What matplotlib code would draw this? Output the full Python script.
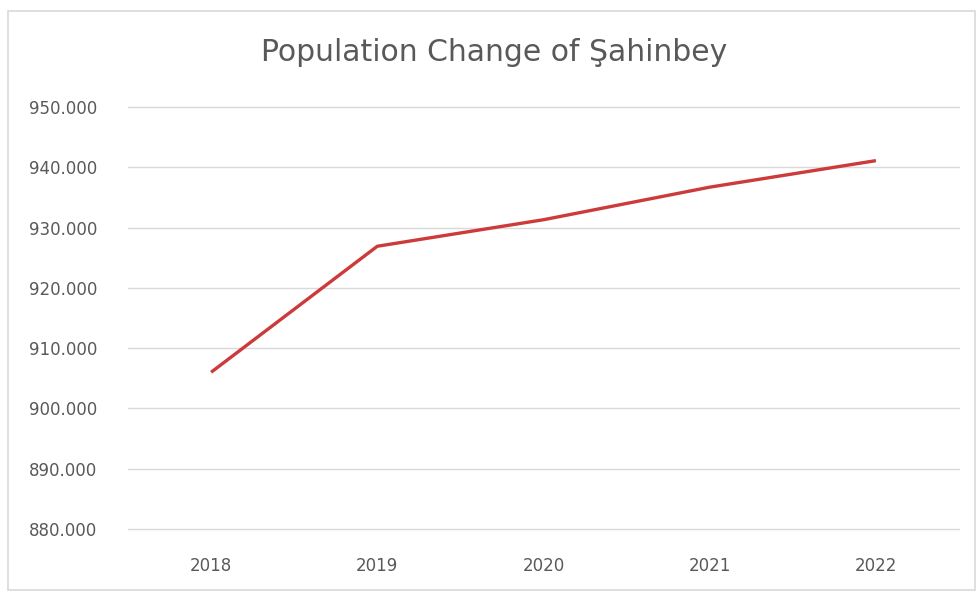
import matplotlib

matplotlib.use("Agg")
import matplotlib.pyplot as plt
from matplotlib.patches import Rectangle
from matplotlib.ticker import FuncFormatter

YEARS = ["2018", "2019", "2020", "2021", "2022"]
POPULATION = [906000, 926900, 931300, 936700, 941100]
Y_TICKS = [880000, 890000, 900000, 910000, 920000, 930000, 940000, 950000]

TEXT_GREY = "#595959"
GRID_GREY = "#d9d9d9"
LINE_RED = "#cc3a3a"


def dotted_thousands(v, _pos):
    return f"{int(round(v)):,}".replace(",", ".")


def main() -> None:
    plt.rcParams.update({"font.family": ["DejaVu Sans"]})
    fig = plt.figure(figsize=(9.77, 5.94), dpi=100)
    ax = fig.add_axes([0.131, 0.1094, 0.8506, 0.7105])

    x = list(range(len(YEARS)))
    ax.plot(x, POPULATION, color=LINE_RED, linewidth=2.4, solid_capstyle="butt")

    ax.set_xlim(-0.5, len(YEARS) - 0.5)
    ax.set_ylim(Y_TICKS[0], Y_TICKS[-1])
    ax.set_yticks(Y_TICKS)
    ax.yaxis.set_major_formatter(FuncFormatter(dotted_thousands))
    ax.set_xticks(x)
    ax.set_xticklabels(YEARS)
    ax.grid(axis="y", color=GRID_GREY, linewidth=1.0)
    for gl in ax.get_ygridlines():
        gl.set_clip_on(False)
    ax.set_axisbelow(True)
    for s in ax.spines.values():
        s.set_visible(False)
    ax.tick_params(axis="both", length=0, colors=TEXT_GREY, labelsize=12)
    ax.tick_params(axis="y", pad=22)
    ax.tick_params(axis="x", pad=20)

    fig.text(0.506, 0.911, "Population Change of Şahinbey", ha="center", va="center",
             fontsize=21.5, color=TEXT_GREY)

    fig.patches.append(Rectangle((0.008, 0.006), 0.99, 0.975, transform=fig.transFigure,
                                 fill=False, edgecolor=GRID_GREY, linewidth=1.2))

    fig.savefig("out.png", dpi=100)
    plt.close(fig)


if __name__ == "__main__":
    main()
